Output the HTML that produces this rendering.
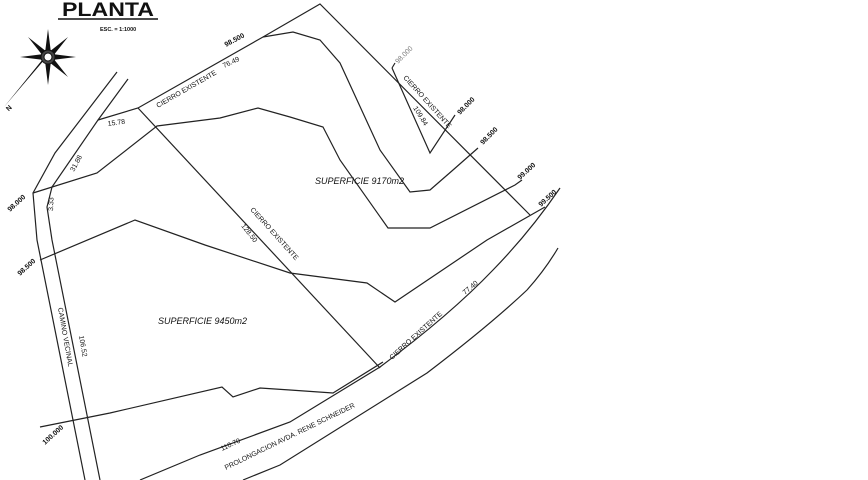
<!DOCTYPE html>
<html><head><meta charset="utf-8"><style>
html,body{margin:0;padding:0;background:#fff;width:868px;height:480px;overflow:hidden}
svg{display:block}
text{font-family:"Liberation Sans",sans-serif;fill:#111}
.s{font-size:7px}
.b{font-size:7px;font-weight:bold}
.i{font-size:9px;font-style:italic}
</style></head><body>
<svg width="868" height="480" viewBox="0 0 868 480" xmlns="http://www.w3.org/2000/svg">
<g fill="none" stroke="#222" stroke-width="1.2">
<polyline points="117,72 55,153 33,193 37,240 85,480"/>
<polyline points="128,79 98,120 52,187 47,207 52,240 100,480"/>
<polyline points="98,120 138,108 263,37 320,4 530,215"/>
<polyline points="33,193 97,173 157,126 220,118 258,108 290,117 323,127 340,160 388,228 430,228 515,185 522,180"/>
<polyline points="263,37 293,32 320,40 340,63 380,150 410,192 430,190 453,170 478,148"/>
<polyline points="392,68 430,153 455,115"/>
<line x1="392" y1="68" x2="395" y2="63"/>
<line x1="138" y1="108" x2="380" y2="368"/>
<polyline points="40,260 135,220 205,245 290,273 367,283 395,302 487,240 545,207"/>
<polyline points="40,427 110,413 222,387 233,397 260,388 290,390 333,393 383,362"/>
<path d="M140,480 L200,455 L290,422 L380,367 Q450,315 493,270 Q530,232 560,188"/>
<path d="M243,480 L280,465 L427,373 Q490,325 527,290 Q545,270 558,248"/>
</g>
<g transform="translate(48,57)" fill="#111">
<polygon points="0,-28 3,-4 0,0 -3,-4"/>
<polygon points="0,28 3,4 0,0 -3,4"/>
<polygon points="-28,0 -4,3 0,0 -4,-3"/>
<polygon points="28,0 4,3 0,0 4,-3"/>
<polygon points="-20,-20 -1,-5 0,0 -5,-1"/>
<polygon points="20,-20 1,-5 0,0 5,-1"/>
<polygon points="20,20 1,5 0,0 5,1"/>
<polygon points="-44,50 -3,2 0,0 -1,-3"/>
<circle r="7" fill="#444" stroke="#111"/>
<circle r="4" fill="#fff" stroke="#111"/>
</g>
<text x="6" y="111" class="b" transform="rotate(-45 8 108)" font-size="9">N</text>
<text x="62" y="16" font-size="19" font-weight="bold" textLength="92" lengthAdjust="spacingAndGlyphs">PLANTA</text>
<line x1="58" y1="19" x2="158" y2="19" stroke="#111" stroke-width="1.5"/>
<text x="100" y="31" font-size="5.5" font-weight="bold">ESC.  =  1:1000</text>
<text class="b" transform="translate(226,47) rotate(-28)">98.500</text>
<text class="s" transform="translate(158,108) rotate(-30)">CIERRO EXISTENTE</text>
<text class="s" transform="translate(224,68) rotate(-25)">76.49</text>
<text class="s" transform="translate(108,126) rotate(-8)">15.78</text>
<text class="s" transform="translate(74,172) rotate(-62)">31.88</text>
<text class="s" transform="translate(53,211) rotate(-88)">3.33</text>
<text class="b" transform="translate(10,212) rotate(-42)">98.000</text>
<text class="s" transform="translate(250,210) rotate(48)">CIERRO EXISTENTE</text>
<text class="s" transform="translate(241,226) rotate(52)">128.50</text>
<text class="i" x="315" y="184">SUPERFICIE 9170m2</text>
<text class="i" x="158" y="324">SUPERFICIE 9450m2</text>
<text class="b" transform="translate(20,276) rotate(-42)">98.500</text>
<text class="s" transform="translate(58,308) rotate(80)">CAMINO VECINAL</text>
<text class="s" transform="translate(79,336) rotate(80)">106.52</text>
<text class="b" transform="translate(45,445) rotate(-42)">100.000</text>
<text class="s" transform="translate(222,451) rotate(-25)">110.70</text>
<text class="s" transform="translate(226,470) rotate(-26)">PROLONGACION AVDA. RENE SCHNEIDER</text>
<text class="s" transform="translate(392,360) rotate(-42)">CIERRO EXISTENTE</text>
<text class="s" transform="translate(465,295) rotate(-40)">77.40</text>
<text class="s" transform="translate(398,64) rotate(-45)" style="fill:#777">98.000</text>
<text class="s" transform="translate(403,78) rotate(48)">CIERRO EXISTENTE</text>
<text class="s" transform="translate(413,108) rotate(58)">109.84</text>
<text class="b" transform="translate(460,115) rotate(-45)">98.000</text>
<text class="b" transform="translate(483,145) rotate(-45)">98.500</text>
<text class="b" transform="translate(520,180) rotate(-42)">99.000</text>
<text class="b" transform="translate(541,207) rotate(-42)">99.500</text>
</svg>
</body></html>
